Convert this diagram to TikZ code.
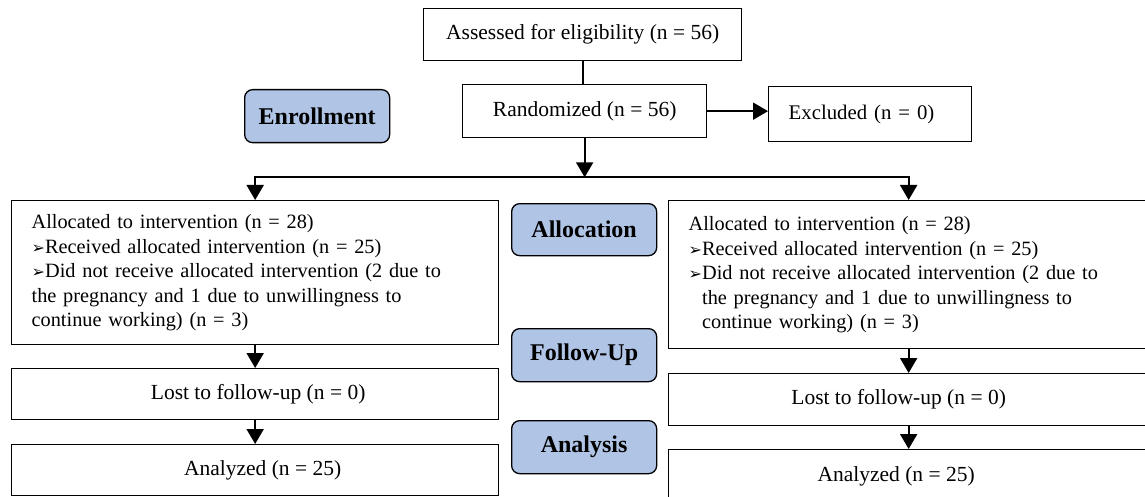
\documentclass[tikz,border=0pt]{standalone}
\usepackage{fontspec}
\setmainfont{Liberation Serif}
\newfontfamily\dejavu{DejaVu Sans}
\usetikzlibrary{arrows.meta,calc}
\definecolor{labblue}{RGB}{176,196,230}
\newcommand{\bul}{\makebox[13.5pt][l]{\dejavu\fontsize{16}{16}\selectfont ➢}}
\begin{document}
\begin{tikzpicture}[x=1pt,y=-1pt,
  txt/.style={font=\fontsize{21.5}{24.5}\selectfont},
  small/.style={font=\fontsize{20.3}{24.5}\selectfont},
  box/.style={draw, line width=1.3pt, txt, inner xsep=20pt, inner ysep=0pt, anchor=north west},
  lab/.style={draw, line width=1.3pt, rounded corners=8pt, fill=labblue,
    font=\bfseries\fontsize{24}{28}\selectfont, minimum width=145pt,
    minimum height=52pt, inner sep=0pt, anchor=north west},
  arr/.style={line width=2pt, -{Triangle[width=17pt,length=15pt]}},
  ln/.style={line width=2pt}]
\useasboundingbox (0,0) rectangle (1145,497);

% top
\node[box, minimum width=318pt, minimum height=52pt] (assess) at (423,8) {Assessed for eligibility (n = 56)};
\node[box, minimum width=244pt, minimum height=53pt] (rand) at (462,84) {Randomized (n = 56)};
\node[box, font=\fontsize{20.8}{24.5}\selectfont, minimum width=203pt, minimum height=55pt, text width=163pt, align=left] (excl) at (768,86) {Excluded (n = 0)};

% stage labels
\node[lab, minimum height=53pt] (enroll) at (244,89) {Enrollment};
\node[lab] (alloc) at (511,203) {Allocation};
\node[lab, minimum height=53pt] (follow) at (511,328) {Follow-Up};
\node[lab, minimum height=53pt] (anal) at (511,420) {Analysis};

% left column
\node[box, small, minimum width=487pt, minimum height=144pt, text width=447pt, align=left] (lalloc) at (11,200)
{Allocated to intervention (n = 28)\\
\bul Received allocated intervention (n = 25)\\
\bul Did not receive allocated intervention (2 due to\\
the pregnancy and 1 due to unwillingness to\\
continue working) (n = 3)};
\node[box, minimum width=487pt, minimum height=51pt] (llost) at (11,368) {\hspace*{6pt}Lost to follow-up (n = 0)};
\node[box, minimum width=487pt, minimum height=51pt] (lanal) at (11,444) {\hspace*{15pt}Analyzed (n = 25)};

% right column
\node[box, small, minimum width=480pt, minimum height=148pt, text width=440pt, align=left] (ralloc) at (668,200)
{Allocated to intervention (n = 28)\\
\bul Received allocated intervention (n = 25)\\
\bul Did not receive allocated intervention (2 due to\\
\hspace*{13.5pt}the pregnancy and 1 due to unwillingness to\\
\hspace*{13.5pt}continue working) (n = 3)};
\node[box, minimum width=480pt, minimum height=52pt] (rlost) at (668,373) {\hspace*{-20pt}Lost to follow-up (n = 0)};
\node[box, minimum width=480pt, minimum height=60pt] (ranal) at (668,449) {\hspace*{-25pt}\raisebox{12pt}{Analyzed (n = 25)}};

% connectors
\draw[ln] (assess.south) -- (assess.south |- rand.north);
\draw[arr] (rand.east) -- (rand.east -| excl.west);
\coordinate (hub) at ($(rand.south)+(0,39)$);
\draw[arr] (rand.south) -- (hub);
\draw[arr] (hub) -| (lalloc.north);
\draw[arr] (hub) -| (ralloc.north);
\draw[arr] (lalloc.south) -- (llost.north);
\draw[arr] (llost.south) -- (lanal.north);
\draw[arr] (ralloc.south) -- (rlost.north);
\draw[arr] (rlost.south) -- (ranal.north);
\end{tikzpicture}
\end{document}
